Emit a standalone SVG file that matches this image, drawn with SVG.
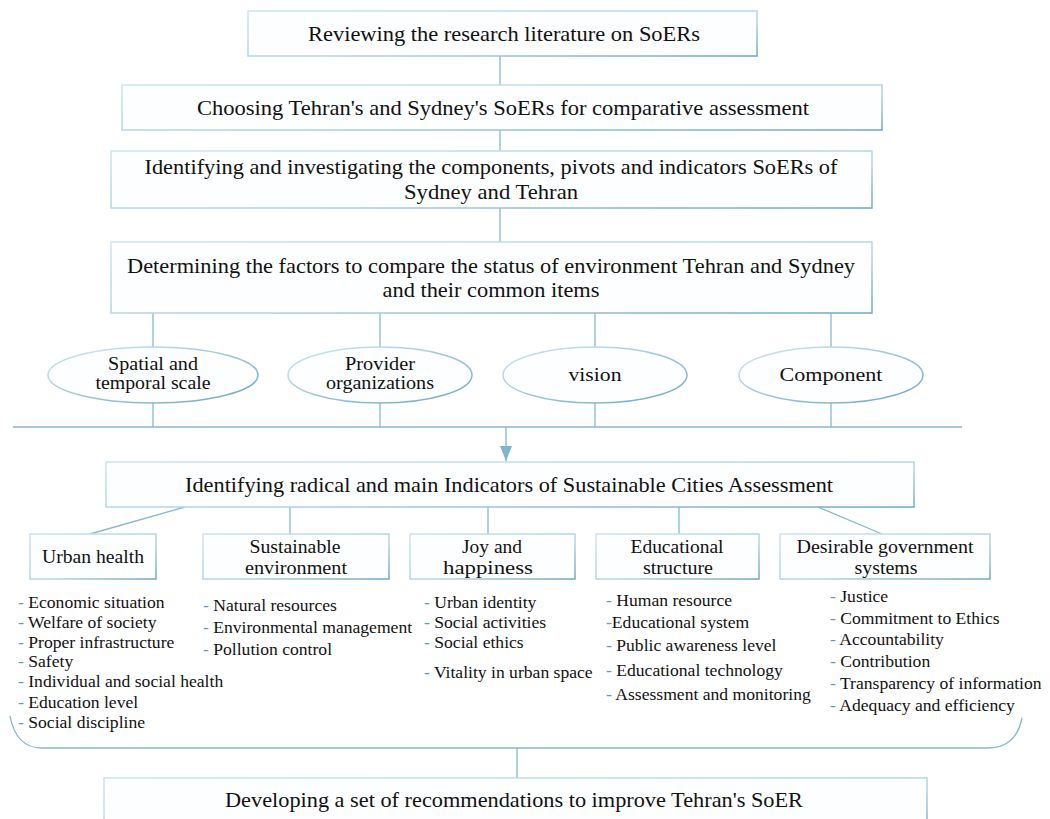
<svg xmlns="http://www.w3.org/2000/svg" width="1050" height="819" viewBox="0 0 1050 819">
<defs>
<linearGradient id="bs" x1="0" y1="0" x2="1" y2="1">
<stop offset="0" stop-color="#cfe3ec"/>
<stop offset="0.6" stop-color="#b4d2e0"/>
<stop offset="1" stop-color="#6fa8c2"/>
</linearGradient>
<linearGradient id="es" x1="0" y1="0" x2="1" y2="1">
<stop offset="0" stop-color="#d6e7ef"/>
<stop offset="1" stop-color="#6fa8c2"/>
</linearGradient>
<marker id="arr" viewBox="0 0 15 12" refX="15" refY="6" markerWidth="15" markerHeight="12" markerUnits="userSpaceOnUse" orient="auto">
<path d="M0,0 L15,6 L0,12 Z" fill="#7fb6cc"/>
</marker>
</defs>
<style>
.box{fill:#fcfeff;stroke:url(#bs);stroke-width:1.5}
.ell{fill:#fcfeff;stroke:url(#es);stroke-width:1.5}
.t{font-family:"Liberation Serif","Times New Roman",serif;fill:#111;text-anchor:middle}
.big{font-size:22px}
.mid{font-size:18.5px}
.li{font-family:"Liberation Serif","Times New Roman",serif;fill:#111;font-size:17.6px}
.d{fill:#5f9ab5}
.c{stroke:#86b8cd;stroke-width:1.3;fill:none}
</style>
<rect width="1050" height="819" fill="#ffffff"/>
<g id="connectors">
<line class="c" x1="500" y1="56" x2="500" y2="85"/>
<line class="c" x1="500" y1="130" x2="500" y2="151"/>
<line class="c" x1="500" y1="208" x2="500" y2="242"/>
<line class="c" x1="153" y1="313" x2="153" y2="347"/>
<line class="c" x1="380" y1="313" x2="380" y2="347"/>
<line class="c" x1="595" y1="313" x2="595" y2="347"/>
<line class="c" x1="831" y1="313" x2="831" y2="347"/>
<line class="c" x1="153" y1="403" x2="153" y2="427"/>
<line class="c" x1="380" y1="403" x2="380" y2="427"/>
<line class="c" x1="595" y1="403" x2="595" y2="427"/>
<line class="c" x1="831" y1="403" x2="831" y2="427"/>
<line class="c" x1="13" y1="427" x2="962" y2="427"/>
<line class="c" x1="506" y1="427" x2="506" y2="461" marker-end="url(#arr)"/>
<line class="c" x1="185" y1="507" x2="90" y2="534"/>
<line class="c" x1="290" y1="507" x2="290" y2="534"/>
<line class="c" x1="488" y1="507" x2="488" y2="534"/>
<line class="c" x1="679" y1="507" x2="679" y2="534"/>
<line class="c" x1="818" y1="507" x2="882" y2="534"/>
<path class="c" d="M10,716 Q16,748 42,748 L988,748 Q1016,748 1022,718"/>
<line class="c" x1="517" y1="748" x2="517" y2="778"/>
</g>
<g id="n1">
<rect class="box" x="248" y="11" width="509" height="45"/>
<text class="t big" x="504" y="41" textLength="392" lengthAdjust="spacingAndGlyphs">Reviewing the research literature on SoERs</text>
</g>
<g id="n2">
<rect class="box" x="122" y="85" width="760" height="45"/>
<text class="t big" x="503" y="115" textLength="612" lengthAdjust="spacingAndGlyphs">Choosing Tehran's and Sydney's SoERs for comparative assessment</text>
</g>
<g id="n3">
<rect class="box" x="111" y="151" width="761" height="57"/>
<text class="t big" x="491" y="174" textLength="693" lengthAdjust="spacingAndGlyphs">Identifying and investigating the components, pivots and indicators SoERs of</text>
<text class="t big" x="491" y="199" textLength="174" lengthAdjust="spacingAndGlyphs">Sydney and Tehran</text>
</g>
<g id="n4">
<rect class="box" x="111" y="242" width="761" height="71"/>
<text class="t big" x="491" y="273" textLength="728" lengthAdjust="spacingAndGlyphs">Determining the factors to compare the status of environment Tehran and Sydney</text>
<text class="t big" x="491" y="297" textLength="217" lengthAdjust="spacingAndGlyphs">and their common items</text>
</g>
<g id="e1">
<ellipse class="ell" cx="153" cy="375" rx="105" ry="28"/>
<text class="t mid" x="153" y="370" textLength="90" lengthAdjust="spacingAndGlyphs">Spatial and</text>
<text class="t mid" x="153" y="389" textLength="115" lengthAdjust="spacingAndGlyphs">temporal scale</text>
</g>
<g id="e2">
<ellipse class="ell" cx="380" cy="375" rx="92" ry="28"/>
<text class="t mid" x="380" y="370" textLength="70" lengthAdjust="spacingAndGlyphs">Provider</text>
<text class="t mid" x="380" y="389" textLength="108" lengthAdjust="spacingAndGlyphs">organizations</text>
</g>
<g id="e3">
<ellipse class="ell" cx="595" cy="375" rx="92" ry="28"/>
<text class="t mid" x="595" y="381" textLength="53" lengthAdjust="spacingAndGlyphs">vision</text>
</g>
<g id="e4">
<ellipse class="ell" cx="831" cy="375" rx="92" ry="28"/>
<text class="t mid" x="831" y="381" textLength="103" lengthAdjust="spacingAndGlyphs">Component</text>
</g>
<g id="n5">
<rect class="box" x="106" y="462" width="808" height="45"/>
<text class="t big" x="509" y="492" textLength="648" lengthAdjust="spacingAndGlyphs">Identifying radical and main Indicators of Sustainable Cities Assessment</text>
</g>
<g id="b1">
<rect class="box" x="30" y="534" width="126" height="45"/>
<text class="t mid" x="93" y="563" textLength="102" lengthAdjust="spacingAndGlyphs">Urban health</text>
</g>
<g id="b2">
<rect class="box" x="203" y="534" width="186" height="45"/>
<text class="t mid" x="295" y="553" textLength="91" lengthAdjust="spacingAndGlyphs">Sustainable</text>
<text class="t mid" x="296" y="574" textLength="102" lengthAdjust="spacingAndGlyphs">environment</text>
</g>
<g id="b3">
<rect class="box" x="410" y="534" width="165" height="45"/>
<text class="t mid" x="492" y="553" textLength="60" lengthAdjust="spacingAndGlyphs">Joy and</text>
<text class="t mid" x="488" y="574" textLength="90" lengthAdjust="spacingAndGlyphs">happiness</text>
</g>
<g id="b4">
<rect class="box" x="596" y="534" width="163" height="45"/>
<text class="t mid" x="677" y="553" textLength="93" lengthAdjust="spacingAndGlyphs">Educational</text>
<text class="t mid" x="678" y="574" textLength="70" lengthAdjust="spacingAndGlyphs">structure</text>
</g>
<g id="b5">
<rect class="box" x="780" y="534" width="210" height="45"/>
<text class="t mid" x="885" y="553" textLength="177" lengthAdjust="spacingAndGlyphs">Desirable government</text>
<text class="t mid" x="886" y="574" textLength="63" lengthAdjust="spacingAndGlyphs">systems</text>
</g>
<g id="l1">
<text class="li" x="18" y="608"><tspan class="d">-</tspan> Economic situation</text>
<text class="li" x="18" y="628"><tspan class="d">-</tspan> Welfare of society</text>
<text class="li" x="18" y="648"><tspan class="d">-</tspan> Proper infrastructure</text>
<text class="li" x="18" y="667"><tspan class="d">-</tspan> Safety</text>
<text class="li" x="18" y="687"><tspan class="d">-</tspan> Individual and social health</text>
<text class="li" x="18" y="708"><tspan class="d">-</tspan> Education level</text>
<text class="li" x="18" y="728"><tspan class="d">-</tspan> Social discipline</text>
</g>
<g id="l2">
<text class="li" x="203" y="611"><tspan class="d">-</tspan> Natural resources</text>
<text class="li" x="203" y="633"><tspan class="d">-</tspan> Environmental management</text>
<text class="li" x="203" y="655"><tspan class="d">-</tspan> Pollution control</text>
</g>
<g id="l3">
<text class="li" x="424" y="608"><tspan class="d">-</tspan> Urban identity</text>
<text class="li" x="424" y="628"><tspan class="d">-</tspan> Social activities</text>
<text class="li" x="424" y="648"><tspan class="d">-</tspan> Social ethics</text>
<text class="li" x="424" y="678"><tspan class="d">-</tspan> Vitality in urban space</text>
</g>
<g id="l4">
<text class="li" x="606" y="606"><tspan class="d">-</tspan> Human resource</text>
<text class="li" x="606" y="628"><tspan class="d">-</tspan>Educational system</text>
<text class="li" x="606" y="651"><tspan class="d">-</tspan> Public awareness level</text>
<text class="li" x="606" y="676"><tspan class="d">-</tspan> Educational technology</text>
<text class="li" x="606" y="700"><tspan class="d">-</tspan> Assessment and monitoring</text>
</g>
<g id="l5">
<text class="li" x="830" y="602"><tspan class="d">-</tspan> Justice</text>
<text class="li" x="830" y="624"><tspan class="d">-</tspan> Commitment to Ethics</text>
<text class="li" x="830" y="645"><tspan class="d">-</tspan> Accountability</text>
<text class="li" x="830" y="667"><tspan class="d">-</tspan> Contribution</text>
<text class="li" x="830" y="689"><tspan class="d">-</tspan> Transparency of information</text>
<text class="li" x="830" y="711"><tspan class="d">-</tspan> Adequacy and efficiency</text>
</g>
<g id="n6">
<rect class="box" x="104" y="778" width="823" height="60"/>
<text class="t big" x="514" y="807" textLength="578" lengthAdjust="spacingAndGlyphs">Developing a set of recommendations to improve Tehran's SoER</text>
</g>
</svg>
